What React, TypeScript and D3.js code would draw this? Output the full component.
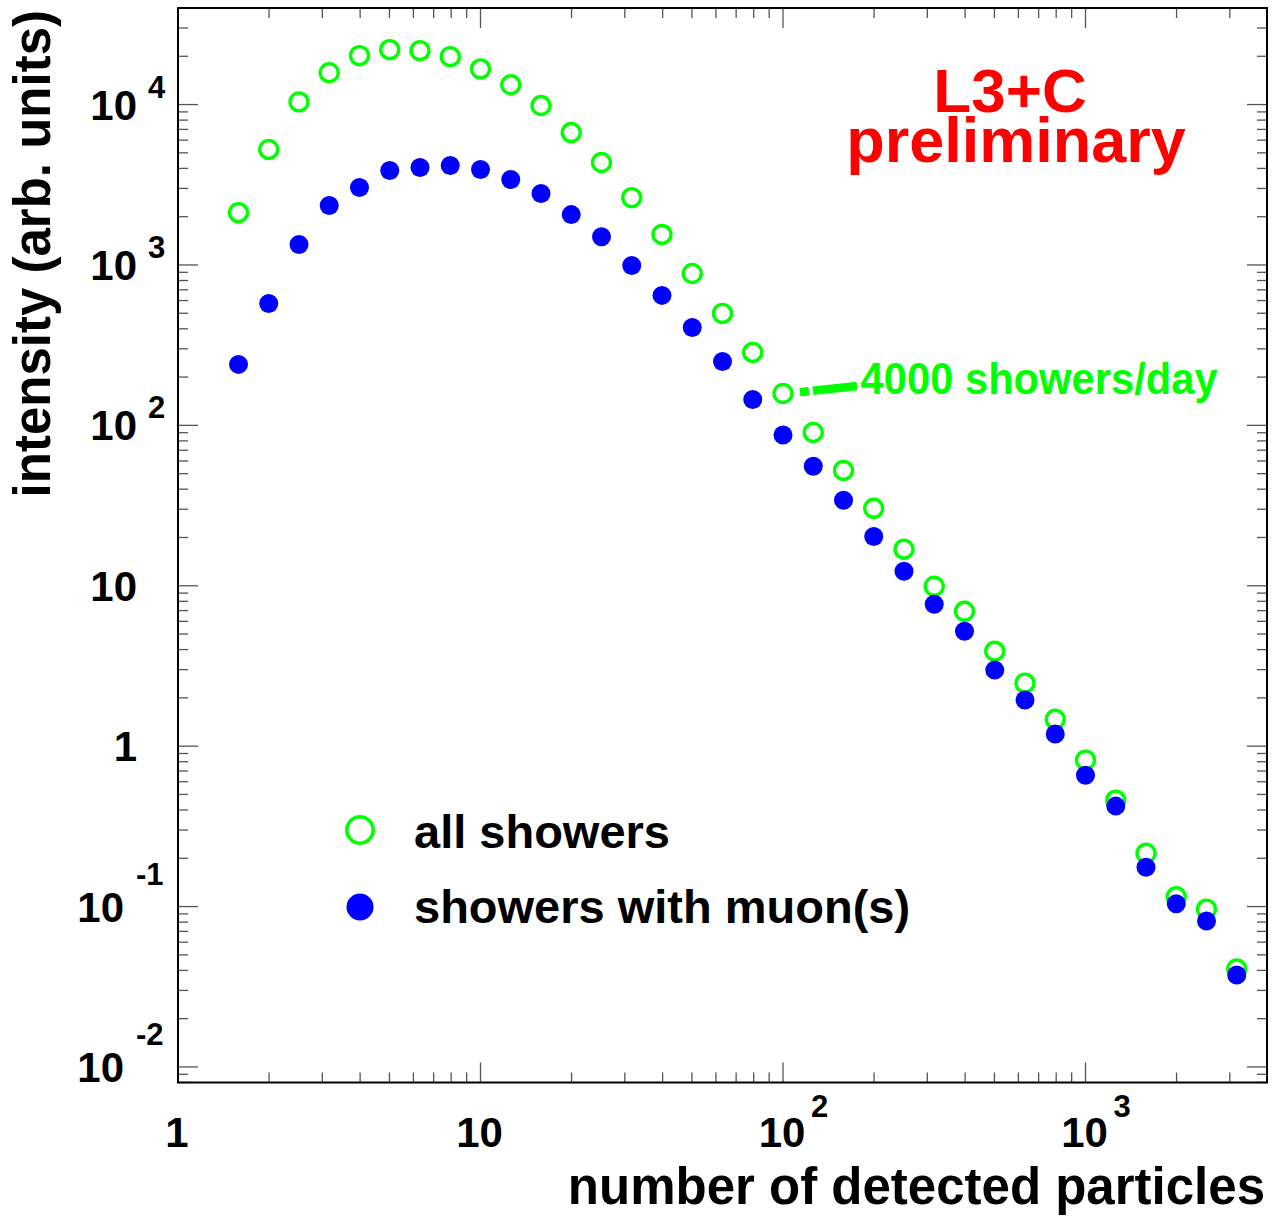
import React from "react";
import * as d3 from "d3";

// number of detected particles (bin centres)
const PARTICLES = [
  1.585, 1.995, 2.512, 3.162, 3.981, 5.012, 6.31, 7.943, 10, 12.59, 15.85, 19.95,
  25.12, 31.62, 39.81, 50.12, 63.1, 79.43, 100, 125.9, 158.5, 199.5, 251.2, 316.2,
  398.1, 501.2, 631.0, 794.3, 1000, 1259, 1585, 1995, 2512, 3162,
];

// all showers (open green circles)
const ALL_SHOWERS = [
  2120, 5250, 10400, 15800, 20200, 22000, 21700, 19900, 16700, 13300, 9860, 6690,
  4350, 2630, 1550, 885, 499, 285, 158, 90.4, 52.4, 30.4, 16.9, 9.93,
  6.93, 3.91, 2.47, 1.47, 0.818, 0.461, 0.215, 0.115, 0.0964, 0.0408,
];

// showers with muon(s) (filled blue circles)
const MUON_SHOWERS = [
  240, 575, 1340, 2350, 3040, 3880, 4050, 4170, 3940, 3410, 2790, 2060,
  1500, 993, 646, 408, 250, 145, 87, 55.6, 34.1, 20.3, 12.3, 7.67,
  5.21, 2.98, 1.94, 1.19, 0.659, 0.423, 0.176, 0.104, 0.0813, 0.0374,
];

const X_LABELS = [
  { v: 1, base: "1", exp: "" },
  { v: 10, base: "10", exp: "" },
  { v: 100, base: "10", exp: "2" },
  { v: 1000, base: "10", exp: "3" },
];

const Y_LABELS = [
  { v: 1e4, base: "10", exp: "4" },
  { v: 1e3, base: "10", exp: "3" },
  { v: 1e2, base: "10", exp: "2" },
  { v: 10, base: "10", exp: "" },
  { v: 1, base: "1", exp: "" },
  { v: 0.1, base: "10", exp: "-1" },
  { v: 0.01, base: "10", exp: "-2" },
];

const LEGEND_LABELS = ["all showers", "showers with muon(s)"];
const X_TITLE = "number of detected particles";
const Y_TITLE = "intensity (arb. units)";
const BANNER = ["L3+C", "preliminary"];
const ANNOTATION = { x0: 113.8, y0: 161, x1: 175.6, y1: 176, tx: 180.5, ty: 157, text: "4000 showers/day" };

export default function App() {
  const W = 1278;
  const H = 1216;
  const L = 178, R = 1267, T = 8, B = 1082.5;
  const x = d3.scaleLog().domain([1, 3981]).range([L, R]);
  const y = d3.scaleLog().domain([0.008, 40000]).range([B, T]);
  const font = "'Liberation Sans', Arial, Helvetica, sans-serif";
  const isMajor = (v: number) => Math.abs(Math.log10(v) - Math.round(Math.log10(v))) < 1e-6;

  const green = "#00ff00";
  const blue = "#0000ff";
  const red = "#ff0000";
  const tickColor = "#555";

  const xTicks = x.ticks().filter((v) => v >= 1 && v <= 3981);
  const yTicks = y.ticks().filter((v) => v >= 0.008 && v <= 40000);

  return (
    <div style={{ position: "absolute", left: 0, top: 0 }}>
      <svg width={W} height={H} viewBox={`0 0 ${W} ${H}`} style={{ display: "block", background: "#fff" }}>
        <rect x={0} y={0} width={W} height={H} fill="#fff" />
        {/* ticks */}
        <g stroke={tickColor} strokeWidth={1.3}>
          {xTicks.map((v, i) => {
            const len = isMajor(v) ? 20 : 10;
            const px = x(v);
            return (
              <g key={"xt" + i}>
                <line x1={px} x2={px} y1={B} y2={B - len} />
                <line x1={px} x2={px} y1={T} y2={T + len} />
              </g>
            );
          })}
          {yTicks.map((v, i) => {
            const len = isMajor(v) ? 20 : 10;
            const py = y(v);
            return (
              <g key={"yt" + i}>
                <line x1={L} x2={L + len} y1={py} y2={py} />
                <line x1={R} x2={R - len} y1={py} y2={py} />
              </g>
            );
          })}
        </g>
        {/* frame */}
        <rect x={L} y={T} width={R - L} height={B - T} fill="none" stroke="#000" strokeWidth={2} />

        {/* axis labels */}
        <g fontFamily={font} fontWeight="bold" fill="#000">
          {Y_LABELS.map((d, i) => {
            const py = y(d.v);
            const neg = d.exp.startsWith("-");
            const baseEnd = d.exp ? (neg ? 124 : 137) : 137;
            return (
              <g key={"yl" + i}>
                <text x={baseEnd} y={py + 15} fontSize={42} textAnchor="end">{d.base}</text>
                {d.exp && (
                  <text x={neg ? 136 : 148} y={neg ? py - 22 : py - 7} fontSize={31} textAnchor="start">
                    {d.exp}
                  </text>
                )}
              </g>
            );
          })}
          {X_LABELS.map((d, i) => {
            const px = x(d.v);
            return (
              <g key={"xl" + i}>
                <text x={px - 1} y={1147} fontSize={42} textAnchor="middle">{d.base}</text>
                {d.exp && (
                  <text x={px + 28} y={1117} fontSize={31} textAnchor="start">{d.exp}</text>
                )}
              </g>
            );
          })}
          <text x={1265} y={1204} fontSize={51} textAnchor="end">{X_TITLE}</text>
          <text transform={`translate(50,10) rotate(-90)`} fontSize={51} textAnchor="end">{Y_TITLE}</text>
        </g>

        {/* data: all showers */}
        <g>
          {PARTICLES.map((p, i) => (
            <circle key={"g" + i} cx={x(p)} cy={y(ALL_SHOWERS[i])} r={9} fill="none" stroke={green} strokeWidth={3.4} />
          ))}
        </g>
        {/* data: showers with muons */}
        <g>
          {PARTICLES.map((p, i) => (
            <circle key={"b" + i} cx={x(p)} cy={y(MUON_SHOWERS[i])} r={9.5} fill={blue} />
          ))}
        </g>

        {/* annotation */}
        <line
          x1={x(ANNOTATION.x0)} y1={y(ANNOTATION.y0)} x2={x(ANNOTATION.x1)} y2={y(ANNOTATION.y1)}
          stroke={green} strokeWidth={8.5} strokeDasharray="9 4 60"
        />
        <text
          x={x(ANNOTATION.tx)} y={y(ANNOTATION.ty)} fontFamily={font} fontWeight="bold" fontSize={45}
          fill={green} textLength={357} lengthAdjust="spacingAndGlyphs"
        >
          {ANNOTATION.text}
        </text>

        {/* banner (two lines in one text) */}
        <text fontFamily={font} fontWeight="bold" fill={red} textAnchor="middle">
          <tspan x={1010} y={112} fontSize={62}>{BANNER[0]}</tspan>
          <tspan x={1016} y={162} fontSize={63}>{BANNER[1]}</tspan>
        </text>

        {/* legend */}
        <g fontFamily={font} fontWeight="bold" fontSize={47} fill="#000">
          <circle cx={360} cy={830} r={13.2} fill="none" stroke={green} strokeWidth={3.6} />
          <text x={414} y={848}>{LEGEND_LABELS[0]}</text>
          <circle cx={360} cy={907} r={13.5} fill={blue} />
          <text x={414} y={923}>{LEGEND_LABELS[1]}</text>
        </g>
      </svg>
    </div>
  );
}
